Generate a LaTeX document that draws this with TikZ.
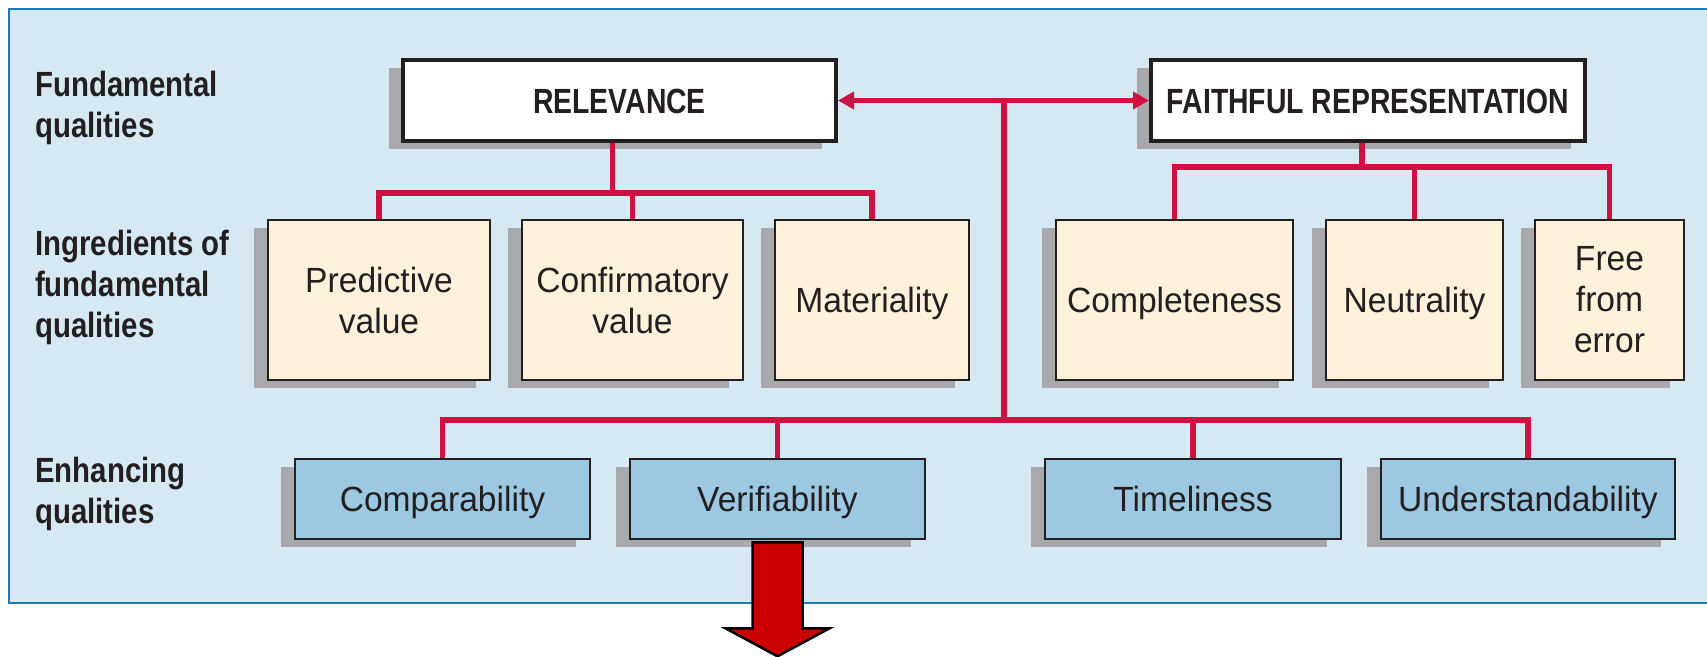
\documentclass[tikz,border=0pt]{standalone}
\usepackage{fontspec}
\setmainfont{Liberation Sans}[FakeStretch=0.96]
\newfontfamily\condfont{Liberation Sans}[FakeStretch=0.81]
\newfontfamily\labfont{Liberation Sans}[FakeStretch=0.84]
\usetikzlibrary{shadows,arrows.meta,calc}
\definecolor{bgblue}{HTML}{D6E8F2}
\definecolor{framecol}{HTML}{1B7DB1}
\definecolor{ingfill}{HTML}{FDF1DC}
\definecolor{enhfill}{HTML}{9CC9E1}
\definecolor{shadowgray}{HTML}{A7A9AC}
\definecolor{linkred}{HTML}{CF1141}
\definecolor{arrowred}{HTML}{CC0000}
\definecolor{textdark}{HTML}{231F20}
\begin{document}
\begin{tikzpicture}[x=1pt,y=-1pt,
  frame/.style={draw=framecol,fill=bgblue,line width=2.5pt},
  box/.style={draw=textdark,line width=2.6pt,inner sep=0pt,align=center,
    drop shadow={shadow xshift=-14pt,shadow yshift=-8pt,fill=shadowgray,opacity=1},
    font=\fontsize{35}{41}\selectfont,text=textdark},
  oneline/.style={text height=25pt,text depth=0pt},
  topbox/.style={box,oneline,fill=white,line width=4pt,minimum height=81pt,
    font=\condfont\bfseries\fontsize{35}{41}\selectfont},
  ingbox/.style={box,fill=ingfill,minimum height=160pt},
  enhbox/.style={box,oneline,fill=enhfill,minimum height=80pt},
  lab/.style={anchor=base west,align=left,inner sep=0pt,
    font=\labfont\bfseries\fontsize{35}{41}\selectfont,text=textdark},
  link/.style={draw=linkred,line width=5.5pt,line join=miter},
  bigarrow/.style={fill=arrowred,draw=black,line width=2.5pt,line join=miter}
]
\useasboundingbox (0,0) rectangle (1707,656);
\clip (0,0) rectangle (1707,656);
\fill[white] (0,0) rectangle (1707,656);
\draw[frame] (9,9) rectangle (1725,603);

% row labels (anchor at the baseline of the last line)
\node[lab] (l1) at (35,137) {Fundamental\\qualities};
\node[lab] (l2) at (35,337) {Ingredients of\\fundamental\\qualities};
\node[lab] (l3) at (35,523) {Enhancing\\qualities};

% fundamental qualities
\node[topbox,minimum width=433pt] (rel) at (619.5,100.5) {RELEVANCE};
\node[topbox,minimum width=434pt] (fr) at (1368,100.5) {FAITHFUL REPRESENTATION};

% ingredients
\node[ingbox,minimum width=222pt] (pv) at (379,300) {Predictive\\value};
\node[ingbox,minimum width=221pt] (cv) at (632.5,300) {Confirmatory\\value};
\node[ingbox,oneline,minimum width=194pt] (mat) at (872,300) {Materiality};
\node[ingbox,oneline,minimum width=237pt] (com) at (1174.5,300) {Completeness};
\node[ingbox,oneline,minimum width=177pt] (neu) at (1414.5,300) {Neutrality};
\node[ingbox,minimum width=149pt] (ffe) at (1609.5,300) {Free\\from\\error};

% enhancing
\node[enhbox,minimum width=295pt] (cmp) at (442.5,499) {Comparability};
\node[enhbox,minimum width=295pt] (ver) at (777.5,499) {Verifiability};
\node[enhbox,minimum width=296pt] (tim) at (1193,499) {Timeliness};
\node[enhbox,minimum width=294pt] (und) at (1528,499) {Understandability};

% bus levels
\coordinate (relbus) at (0,193);
\coordinate (frbus) at (0,167);
\coordinate (enhbus) at (0,420);
\coordinate (hub) at (1004,100.5);

% relevance tree
\draw[link] (pv.north) -- (pv.north |- relbus) -- (mat.north |- relbus) -- (mat.north);
\draw[link] (cv.north) -- (cv.north |- relbus);
\draw[link] ($(rel.south)+(-7,0)$) -- ($(rel.south |- relbus)+(-7,0)$);

% faithful representation tree
\draw[link] (com.north) -- (com.north |- frbus) -- (ffe.north |- frbus) -- (ffe.north);
\draw[link] (neu.north) -- (neu.north |- frbus);
\draw[link] ($(fr.south)+(-6,0)$) -- ($(fr.south |- frbus)+(-6,0)$);

% link between fundamental qualities and trunk
\draw[link,{Triangle[length=16pt,width=17pt]}-{Triangle[length=16pt,width=17pt]}] (rel.east) -- (fr.west);
\draw[link] (hub) -- (hub |- enhbus);

% enhancing tree
\draw[link] (cmp.north) -- (cmp.north |- enhbus) -- (und.north |- enhbus) -- (und.north);
\draw[link] (ver.north) -- (ver.north |- enhbus);
\draw[link] (tim.north) -- (tim.north |- enhbus);

% big downward arrow
\draw[bigarrow] ($(ver.south)+(-25,2)$) -- ($(ver.south)+(-25,88)$)
  -- ($(ver.south)+(-52,88)$) -- ($(ver.south)+(0,116)$)
  -- ($(ver.south)+(52,88)$) -- ($(ver.south)+(25,88)$)
  -- ($(ver.south)+(25,2)$) -- cycle;
\end{tikzpicture}
\end{document}
